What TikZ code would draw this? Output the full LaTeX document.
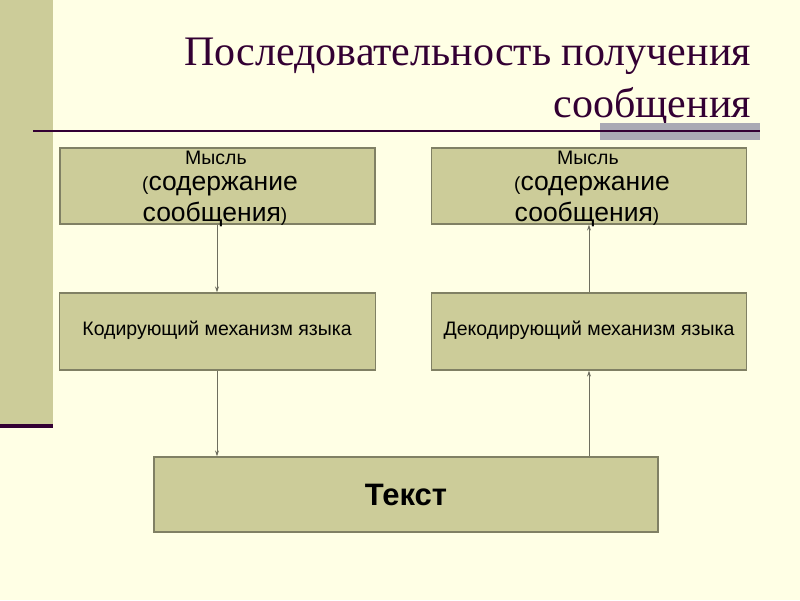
\documentclass[tikz,border=0pt]{standalone}
\usepackage{fontspec}
\setmainfont{Liberation Sans}
\newfontfamily\titlefont{Liberation Serif}
\usetikzlibrary{arrows.meta}
\definecolor{bgc}{RGB}{255,255,229}
\definecolor{olive}{RGB}{204,204,153}
\definecolor{boxline}{RGB}{128,128,100}
\definecolor{plum}{RGB}{51,0,51}
\definecolor{graybar}{RGB}{170,170,180}
\definecolor{arrowc}{RGB}{110,110,95}
\tikzset{
  stepbox/.style={draw=boxline, line width=1.2pt, fill=olive, rectangle, inner sep=0pt},
  flow/.style={draw=arrowc, line width=1pt, -{Stealth[length=6pt,width=4pt]}},
  boxtext/.style={inner sep=0pt, text=black, font=\fontsize{19.5}{23}\selectfont},
  bigtext/.style={inner sep=0pt, text=black, font=\fontsize{26.5}{30}\selectfont},
}
\newcommand{\smallpar}[1]{{\fontsize{19}{23}\selectfont #1}}
\begin{document}
\begin{tikzpicture}[x=1pt,y=-1pt]
\useasboundingbox (0,0) rectangle (800,600);
\fill[bgc] (0,0) rectangle (800,600);
% left bar
\fill[olive] (0,0) rectangle (53,424);
\fill[plum] (0,424) rectangle (53,428);
% title
\node[anchor=base east, inner sep=0pt, text=plum, font=\titlefont\fontsize{42}{50}\selectfont] (t1) at (751,65) {Последовательность получения};
\node[anchor=base east, inner sep=0pt, text=plum, font=\titlefont\fontsize{42}{50}\selectfont] (t2) at (751,117) {сообщения};
% rule
\fill[graybar] (600,123) rectangle (760,140);
\draw[plum, line width=2pt] (33,130.5) -- (760,130.5);
% boxes
\node[stepbox, minimum width=315pt, minimum height=76pt] (b1) at (217.5,186) {};
\node[stepbox, minimum width=315pt, minimum height=76pt] (b2) at (589,186) {};
\node[stepbox, minimum width=316pt, minimum height=77pt] (b3) at (217.5,331.5) {};
\node[stepbox, minimum width=315pt, minimum height=77pt] (b4) at (589,331.5) {};
\node[stepbox, minimum width=504pt, minimum height=75pt] (b5) at (406,494.5) {};
% texts box1
\node[boxtext] (m1) at (216,158) {Мысль};
\node[bigtext] (c1) at (220,186) {\smallpar{(}содержание};
\node[bigtext] (s1) at (215,214) {сообщения\smallpar{)}};
% texts box2
\node[boxtext] (m2) at (588,158) {Мысль};
\node[bigtext] (c2) at (592,186) {\smallpar{(}содержание};
\node[bigtext] (s2) at (587,214) {сообщения\smallpar{)}};
% middle texts
\node[boxtext] (k) at (217,330) {Кодирующий механизм языка};
\node[boxtext] (d) at (589,330) {Декодирующий механизм языка};
\node[inner sep=0pt, font=\bfseries\fontsize{31}{36}\selectfont] (tx) at (406,495) {Текст};
% arrows
\draw[flow] (b1.south -| 217,0) -- (b3.north -| 217,0);
\draw[flow] (b3.south -| 217,0) -- (b5.north -| 217,0);
\draw[flow] (b5.north -| 589,0) -- (b4.south -| 589,0);
\draw[flow] (b4.north -| 589,0) -- (b2.south -| 589,0);
\end{tikzpicture}
\end{document}
